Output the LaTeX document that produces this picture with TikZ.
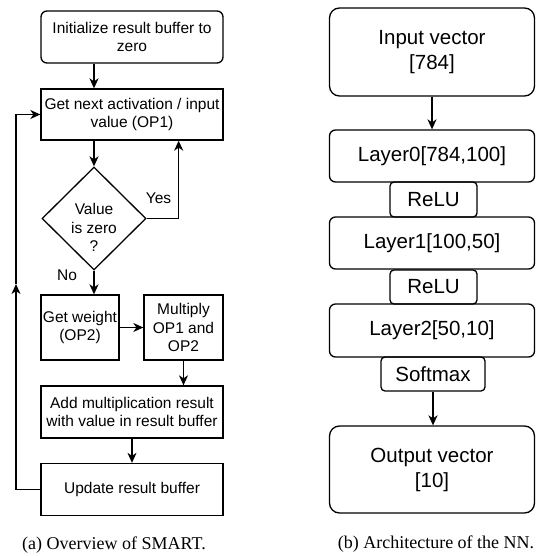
\documentclass[tikz,border=0pt]{standalone}
\usepackage{fontspec}
\setmainfont{Liberation Sans}
\newfontfamily\capfont{Liberation Serif}
\usetikzlibrary{shapes.geometric,arrows.meta}

\begin{document}
\begin{tikzpicture}[x=1pt,y=-1pt,
  line width=1.3pt,
  box/.style={draw, inner sep=0pt, align=center, minimum width=182pt, minimum height=52pt,
    font=\fontsize{15.5}{18.6}\selectfont},
  rbox/.style={box, rounded corners=6pt},
  layer/.style={draw, inner sep=0pt, align=center, minimum width=205pt, minimum height=52pt,
    rounded corners=6pt, font=\fontsize{20.5}{25}\selectfont},
  act/.style={layer, minimum height=35pt, rounded corners=4pt},
  arr/.style={-{Stealth[length=10pt,width=9pt,inset=3pt]}},
  lbl/.style={font=\fontsize{15.5}{18.6}\selectfont, inner sep=0pt},
  captext/.style={font=\capfont\fontsize{18}{21}\selectfont, inner sep=0pt}]
\useasboundingbox (0,0) rectangle (535,556);

% ---------- (a) SMART flow ----------
\node[rbox] (init) at (132,37) {Initialize result buffer to\\zero};
\node[box, minimum height=51pt] (next) at (132,114.5) {Get next activation / input\\value (OP1)};
\node[draw, diamond, minimum width=104pt, minimum height=103pt, inner sep=0pt,
  label={[lbl, align=center, yshift=-9pt]center:Value\\is zero\\?}] (dia) at (94,218.5) {};
\node[box, minimum width=78pt, minimum height=65pt] (weight) at (80,327.5) {Get weight\\(OP2)};
\node[box, minimum width=79pt, minimum height=65pt] (mult) at (183.5,327.5) {Multiply\\OP1 and\\OP2};
\node[box] (add) at (132,412) {Add multiplication result\\with value in result buffer};
\node[box] (update) at (132,489.5) {Update result buffer};

\draw[arr] (init.south -| dia) -- (next.north -| dia);
\draw[arr] (next.south -| dia) -- (dia.north);
\draw[arr] (dia.east) -| ([xshift=-45pt]next.south east);
\node[lbl] (yes) at (158.5,198) {Yes};
\draw[arr] (dia.south) -- (dia.south |- weight.north);
\node[lbl] (no) at (67,275.5) {No};
\draw[arr] (weight.east) -- (mult.west);
\draw[arr] (mult.south) -- (mult.south |- add.north);
\draw[arr] (add.south) -- (update.north);
\coordinate (loopmid) at (16,284);
\draw[arr] (update.west) -| (loopmid);
\draw[arr] (loopmid) |- (next.west);

\node[captext] (capa) at (114,545) {(a) Overview of SMART.};

% ---------- (b) network architecture ----------
\node[layer, minimum height=88pt, rounded corners=10pt] (in) at (432,52) {Input vector\\{[784]}};
\node[layer] (l0) at (432,156) {Layer0[784,100]};
\node[act, minimum width=87pt] (r1) at (433.5,199.5) {ReLU};
\node[layer] (l1) at (432,243) {Layer1[100,50]};
\node[act, minimum width=87pt, minimum height=34pt] (r2) at (433.5,287) {ReLU};
\node[layer, minimum height=53pt] (l2) at (432,330.5) {Layer2[50,10]};
\node[act, minimum width=104pt, minimum height=34pt] (sm) at (433,374) {Softmax};
\node[layer, minimum height=87pt, rounded corners=10pt] (out) at (432,469.5) {Output vector\\{[10]}};

\draw[arr] (in.south) -- (l0.north);
\draw[arr] (sm.south) -- (sm.south |- out.north);

\node[captext] (capb) at (436,544) {(b) Architecture of the NN.};
\end{tikzpicture}
\end{document}
